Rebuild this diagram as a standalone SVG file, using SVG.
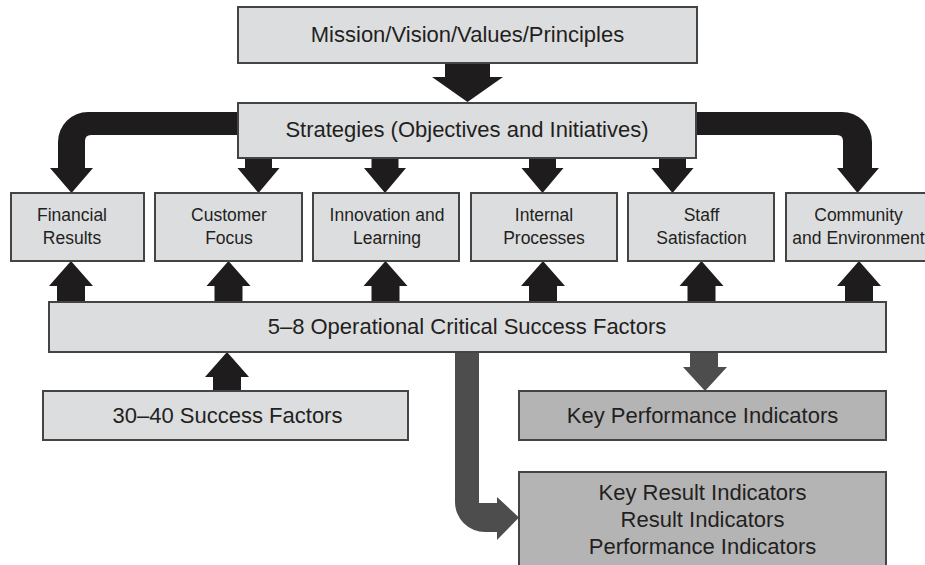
<svg xmlns="http://www.w3.org/2000/svg" width="925" height="565" viewBox="0 0 925 565">
<style>
.box{fill:#dcdddf;stroke:#444;stroke-width:2}
.dbox{fill:#b4b4b5;stroke:#444;stroke-width:2}
.blk{fill:#1e1c1d}
.gry{fill:#4d4d4d}
text{font-family:"Liberation Sans",Arial,sans-serif;fill:#231f20;text-anchor:middle}
.big{font-size:22px}
.sm{font-size:17.5px}
</style>
<rect width="925" height="565" fill="#fff"/>
<defs>
<path id="dn" d="M-13.5,0 H13.5 V10 H21 L0,35 L-21,10 H-13.5 Z"/>
<path id="up" d="M-14,0 H14 V-16 H22 L0,-41 L-22,-16 H-14 Z"/>
</defs>
<g id="connectors">
<path class="blk" d="M445,62 H490 V77 H503 L467.5,102 L432,77 H445 Z"/>
<path class="blk" d="M240,112 H88 A30,30 0 0 0 58,142 V168 H50 L71.5,193 L93,168 H85 V141 Q85,135 91,135 H240 Z"/>
<path class="blk" d="M694,112 H842 A30,30 0 0 1 872,142 V168 H879 L857.5,193 L837,168 H843 V141 Q843,135 837,135 H694 Z"/>
<use href="#dn" class="blk" x="258.5" y="158"/>
<use href="#dn" class="blk" x="385" y="158"/>
<use href="#dn" class="blk" x="542.5" y="158"/>
<use href="#dn" class="blk" x="672.5" y="158"/>
<use href="#up" class="blk" x="71" y="302"/>
<use href="#up" class="blk" x="228.5" y="302"/>
<use href="#up" class="blk" x="385.5" y="302"/>
<use href="#up" class="blk" x="543" y="302"/>
<use href="#up" class="blk" x="701.5" y="302"/>
<use href="#up" class="blk" x="859" y="302"/>
<use href="#up" class="blk" x="227" y="393"/>
<path class="gry" d="M690,350 H718 V367 H727 L705,391 L683,367 H690 Z"/>
<path class="gry" d="M455,350 V502 A30,30 0 0 0 485,532 H497 V540 L519,517.5 L497,497 V503 H479 V350 Z"/>
</g>
<g id="mission"><rect class="box" x="238" y="7" width="459" height="56"/><text class="big" x="467.5" y="42">Mission/Vision/Values/Principles</text></g>
<g id="strategies"><rect class="box" x="238" y="103" width="458" height="55"/><text class="big" x="467" y="137">Strategies (Objectives and Initiatives)</text></g>
<g id="financial"><rect class="box" x="11" y="193" width="133" height="68"/><text class="sm" x="72" y="221">Financial</text><text class="sm" x="72" y="244">Results</text></g>
<g id="customer"><rect class="box" x="155" y="193" width="147" height="68"/><text class="sm" x="229" y="221">Customer</text><text class="sm" x="229" y="244">Focus</text></g>
<g id="innovation"><rect class="box" x="313" y="193" width="146" height="68"/><text class="sm" x="387" y="221">Innovation and</text><text class="sm" x="387" y="244">Learning</text></g>
<g id="internal"><rect class="box" x="471" y="193" width="146" height="68"/><text class="sm" x="544" y="221">Internal</text><text class="sm" x="544" y="244">Processes</text></g>
<g id="staff"><rect class="box" x="628" y="193" width="146" height="68"/><text class="sm" x="701.5" y="221">Staff</text><text class="sm" x="701.5" y="244">Satisfaction</text></g>
<g id="community"><rect class="box" x="786" y="193" width="146" height="68"/><text class="sm" x="858.5" y="221">Community</text><text class="sm" x="858.5" y="244">and Environment</text></g>
<g id="csf"><rect class="box" x="49" y="302" width="837" height="50"/><text class="big" x="467" y="334">5–8 Operational Critical Success Factors</text></g>
<g id="sf"><rect class="box" x="43" y="391" width="365" height="49"/><text class="big" x="227.5" y="423">30–40 Success Factors</text></g>
<g id="kpi"><rect class="dbox" x="519" y="391" width="367" height="49"/><text class="big" x="702.5" y="423">Key Performance Indicators</text></g>
<g id="kri"><rect class="dbox" x="519" y="472" width="367" height="100"/><text class="big" x="702.5" y="500">Key Result Indicators</text><text class="big" x="702.5" y="527">Result Indicators</text><text class="big" x="702.5" y="554">Performance Indicators</text></g>
</svg>
